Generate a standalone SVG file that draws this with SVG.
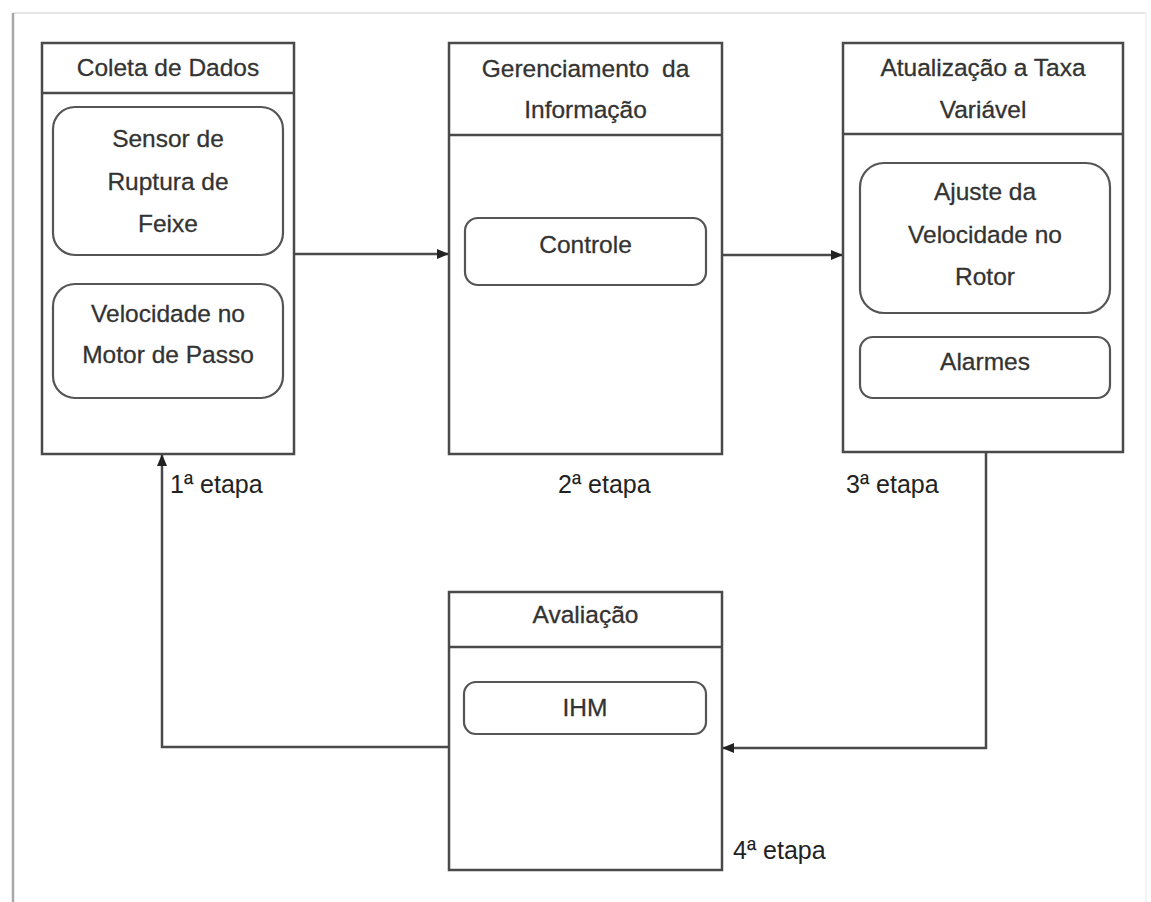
<svg xmlns="http://www.w3.org/2000/svg" width="1151" height="902" viewBox="0 0 1151 902">
  <style>
    .box { fill: #ffffff; stroke: #4a4a4a; stroke-width: 2.5; }
    .sep { stroke: #4a4a4a; stroke-width: 2.5; }
    .item { fill: #ffffff; stroke: #555555; stroke-width: 2.2; }
    .lbl { font-family: "Liberation Sans", Arial, sans-serif; font-size: 24.5px; fill: #333333; text-anchor: middle; stroke: #333333; stroke-width: 0.3; }
    .step { font-family: "Liberation Sans", Arial, sans-serif; font-size: 25px; fill: #222222; }
    .conn { fill: none; stroke: #4a4a4a; stroke-width: 2.5; }
  </style>
  <defs>
    <marker id="arrow" viewBox="0 0 12 10" refX="12" refY="5" markerWidth="12" markerHeight="10" markerUnits="userSpaceOnUse" orient="auto">
      <path d="M0,0 L12,5 L0,10 Z" fill="#222222"/>
    </marker>
  </defs>

  <rect width="1151" height="902" fill="#ffffff"/>

  <!-- page frame -->
  <g id="frame">
    <line x1="13" y1="13" x2="1146" y2="13" stroke="#e6e6e6" stroke-width="2"/>
    <line x1="1146" y1="13" x2="1146" y2="902" stroke="#f3f3f3" stroke-width="2"/>
    <line x1="13" y1="13" x2="13" y2="902" stroke="#a8a8a8" stroke-width="2.5"/>
  </g>

  <!-- connectors -->
  <g id="connectors">
    <path class="conn" d="M294,254 H449" marker-end="url(#arrow)"/>
    <path class="conn" d="M722,255 H843" marker-end="url(#arrow)"/>
    <path class="conn" d="M986,452 V748 H722" marker-end="url(#arrow)"/>
    <path class="conn" d="M449,747 H162 V454" marker-end="url(#arrow)"/>
  </g>

  <!-- stage 1 -->
  <g id="coleta">
    <rect class="box" x="42" y="43" width="252" height="411"/>
    <line class="sep" x1="42" y1="93" x2="294" y2="93"/>
    <text class="lbl" x="168" y="76">Coleta de Dados</text>
    <rect class="item" x="53" y="107" width="230" height="148" rx="22"/>
    <text class="lbl" x="168" y="147">Sensor de</text>
    <text class="lbl" x="168" y="190">Ruptura de</text>
    <text class="lbl" x="168" y="232">Feixe</text>
    <rect class="item" x="53" y="284" width="230" height="114" rx="22"/>
    <text class="lbl" x="168" y="322">Velocidade no</text>
    <text class="lbl" x="168" y="363">Motor de Passo</text>
  </g>

  <!-- stage 2 -->
  <g id="gerenciamento">
    <rect class="box" x="449" y="43" width="273" height="411"/>
    <line class="sep" x1="449" y1="135" x2="722" y2="135"/>
    <text class="lbl" x="585.5" y="77" word-spacing="6">Gerenciamento da</text>
    <text class="lbl" x="585.5" y="118">Informação</text>
    <rect class="item" x="465" y="218" width="241" height="67" rx="13"/>
    <text class="lbl" x="585.5" y="253">Controle</text>
  </g>

  <!-- stage 3 -->
  <g id="atualizacao">
    <rect class="box" x="843" y="43" width="280" height="409"/>
    <line class="sep" x1="843" y1="134" x2="1123" y2="134"/>
    <text class="lbl" x="983" y="76">Atualização a Taxa</text>
    <text class="lbl" x="983" y="118">Variável</text>
    <rect class="item" x="860" y="163" width="250" height="150" rx="24"/>
    <text class="lbl" x="985" y="200">Ajuste da</text>
    <text class="lbl" x="985" y="243">Velocidade no</text>
    <text class="lbl" x="985" y="285">Rotor</text>
    <rect class="item" x="860" y="337" width="250" height="61" rx="13"/>
    <text class="lbl" x="985" y="370">Alarmes</text>
  </g>

  <!-- stage 4 -->
  <g id="avaliacao">
    <rect class="box" x="449" y="592" width="273" height="278"/>
    <line class="sep" x1="449" y1="647" x2="722" y2="647"/>
    <text class="lbl" x="585.5" y="623">Avaliação</text>
    <rect class="item" x="464" y="682" width="242" height="52" rx="12"/>
    <text class="lbl" x="585" y="716">IHM</text>
  </g>

  <!-- stage labels -->
  <g id="labels">
    <text class="step" x="170" y="493">1ª etapa</text>
    <text class="step" x="558" y="493">2ª etapa</text>
    <text class="step" x="846" y="493">3ª etapa</text>
    <text class="step" x="733" y="859">4ª etapa</text>
  </g>
</svg>
